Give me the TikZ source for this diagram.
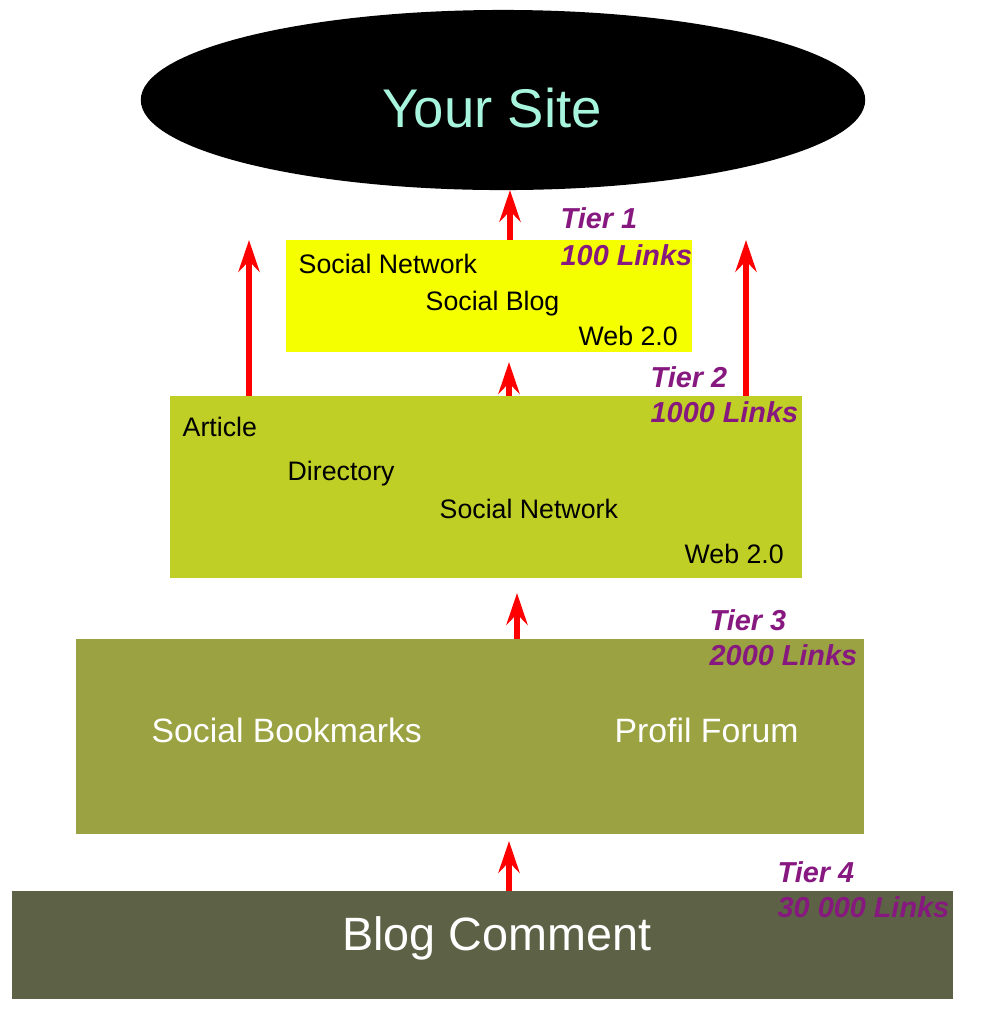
\documentclass[tikz,border=0pt]{standalone}
\usepackage{fontspec}
\setmainfont{Liberation Sans}
\usetikzlibrary{arrows.meta,positioning,shapes.geometric}
\definecolor{sitetext}{HTML}{A6F5DC}
\definecolor{tieryellow}{HTML}{F5FF00}
\definecolor{tiergreen}{HTML}{BFCF26}
\definecolor{tierolive}{HTML}{9AA241}
\definecolor{tierdark}{HTML}{5D6145}
\definecolor{tierpurple}{HTML}{86187F}
\tikzset{
  box/.style={draw=none,inner sep=0pt},
  lbl/.style={anchor=west,inner sep=0pt,font=\fontsize{7.6}{9}\selectfont},
  wlbl/.style={anchor=west,inner sep=0pt,text=white,font=\fontsize{9.6}{11}\selectfont},
  tier/.style={anchor=west,inner sep=0pt,text=tierpurple,font=\fontsize{8.2}{9}\selectfont\bfseries\itshape},
  up/.style={red,line width=1.6pt,-{Stealth[length=9pt,width=6pt,inset=3pt]}}
}
\begin{document}
\begin{tikzpicture}[x=0.01cm,y=-0.01cm]
\useasboundingbox (0,0) rectangle (984,1017);
% your site
\node[ellipse,fill=black,minimum width=7.24cm,minimum height=1.8cm,inner sep=0pt] (site) at (503,100) {};
\node[text=sitetext,font=\fontsize{15.5}{18}\selectfont] (sitename) at (492,108) {Your Site};
% tier 1
\fill[tieryellow] (286,240) rectangle (692,352);
\node[lbl] (sn1) at (298,264) {Social Network};
\node[lbl] (sb1) at (425,304) {Social Blog};
\node[lbl] (w1) at (578,336) {Web 2.0};
% tier 2
\fill[tiergreen] (170,396) rectangle (802,578);
\node[lbl] (art) at (182,427) {Article};
\node[lbl] (dir) at (287,474) {Directory};
\node[lbl] (sn2) at (439,509) {Social Network};
\node[lbl] (w2) at (684,554) {Web 2.0};
% tier 3
\fill[tierolive] (76,639) rectangle (864,834);
\node[wlbl] (bm) at (151,730) {Social Bookmarks};
\node[wlbl] (pf) at (614,730) {Profil Forum};
% tier 4
\fill[tierdark] (12,891) rectangle (953,999);
\node[text=white,font=\fontsize{13.3}{16}\selectfont] (bc) at (497,938) {Blog Comment};
% arrows
\coordinate (a1s) at (510,240); \coordinate (a1e) at (510,190);
\coordinate (a2s) at (509,396); \coordinate (a2e) at (509,362);
\coordinate (a3s) at (249,396); \coordinate (a3e) at (249,240);
\coordinate (a4s) at (746,396); \coordinate (a4e) at (746,240);
\coordinate (a5s) at (517,639); \coordinate (a5e) at (517,593);
\coordinate (a6s) at (509,891); \coordinate (a6e) at (509,841);
\foreach \s/\e in {a1s/a1e,a2s/a2e,a3s/a3e,a4s/a4e,a5s/a5e,a6s/a6e}
  \draw[up] (\s) -- (\e);
% tier labels
\node[tier] (tier1) at (560,218) {Tier 1};
\node[tier] (links1) at (560,255) {100 Links};
\node[tier] (tier2) at (650,377) {Tier 2};
\node[tier] (links2) at (650,412) {1000 Links};
\node[tier] (tier3) at (709,620) {Tier 3};
\node[tier] (links3) at (709,655) {2000 Links};
\node[tier] (tier4) at (777,872) {Tier 4};
\node[tier] (links4) at (777,907) {30 000 Links};
\end{tikzpicture}
\end{document}
